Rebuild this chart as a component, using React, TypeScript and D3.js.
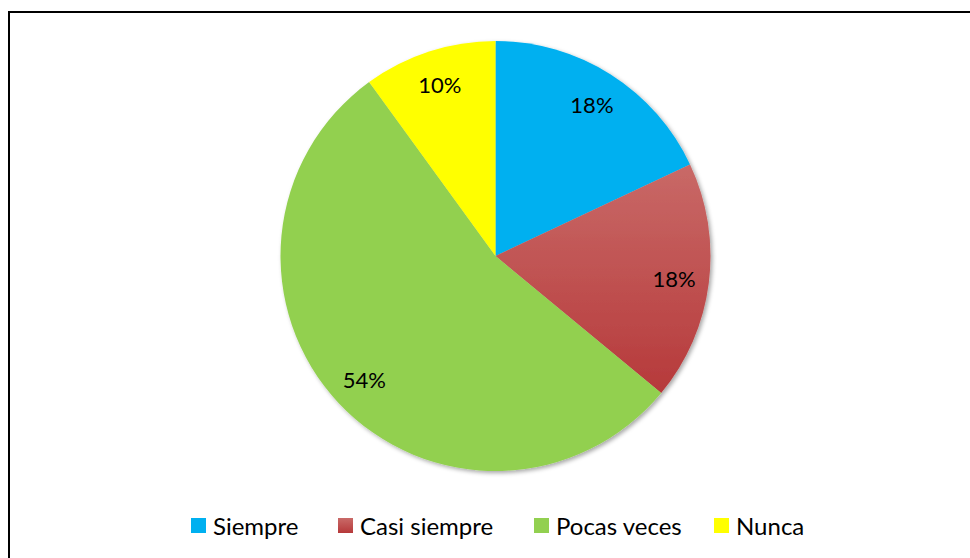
import React from "react";
import * as d3 from "d3";

const categories = ["Siempre", "Casi siempre", "Pocas veces", "Nunca"];
const values = [18, 18, 54, 10];
const labels = ["18%", "18%", "54%", "10%"];
const colors = ["#00B0F0", "url(#redGrad)", "#92D050", "#FFFF00"];
const legendColors = ["#00B0F0", "url(#redGradL)", "#92D050", "#FFFF00"];
const legendX = [191, 338, 534, 714];

export default function App() {
  const W = 970, H = 558;
  const cx = 495.5, cy = 256, R = 215;
  const pie = d3.pie<number>().sort(null).value((d) => d)(values);
  const arc = d3.arc<d3.PieArcDatum<number>>().innerRadius(0).outerRadius(R);
  const labelArc = d3.arc<d3.PieArcDatum<number>>().innerRadius(180).outerRadius(180);
  const font = "Lato, 'Open Sans', sans-serif";
  return (
    <svg width={W} height={H} style={{ position: "absolute", left: 0, top: 0 }}>
      <defs>
        <linearGradient id="redGrad" gradientUnits="userSpaceOnUse" x1="0" y1={-95} x2="0" y2={140}>
          <stop offset="0" stopColor="#C96A68" />
          <stop offset="1" stopColor="#B6393A" />
        </linearGradient>
        <linearGradient id="redGradL" x1="0" y1="0" x2="0" y2="1">
          <stop offset="0" stopColor="#C96A68" />
          <stop offset="1" stopColor="#B6393A" />
        </linearGradient>
        <filter id="shadow" x="-10%" y="-10%" width="120%" height="120%">
          <feDropShadow dx="2" dy="2" stdDeviation="2" floodColor="#000" floodOpacity="0.35" />
        </filter>
      </defs>
      <rect x={0} y={0} width={W} height={H} fill="#fff" />
      <rect x={9} y={12} width={W + 20} height={H + 20} fill="none" stroke="#000" strokeWidth={2} />
      <g transform={`translate(${cx},${cy})`}>
        <g filter="url(#shadow)">
          {pie.map((p, i) => (
            <path key={i} d={arc(p) || ""} fill={colors[i]} />
          ))}
        </g>
        {pie.map((p, i) => {
          const [x, y] = labelArc.centroid(p);
          return (
            <text key={i} x={x} y={y} textAnchor="middle" dominantBaseline="central" fontFamily={font} fontSize={22} fill="#000">
              {labels[i]}
            </text>
          );
        })}
      </g>
      <g>
        {categories.map((c, i) => (
          <g key={c}>
            <rect x={legendX[i]} y={518} width={15} height={15} fill={legendColors[i]} />
            <text x={legendX[i] + 22} y={525} dominantBaseline="central" fontFamily={font} fontSize={24} fill="#000">
              {c}
            </text>
          </g>
        ))}
      </g>
    </svg>
  );
}
